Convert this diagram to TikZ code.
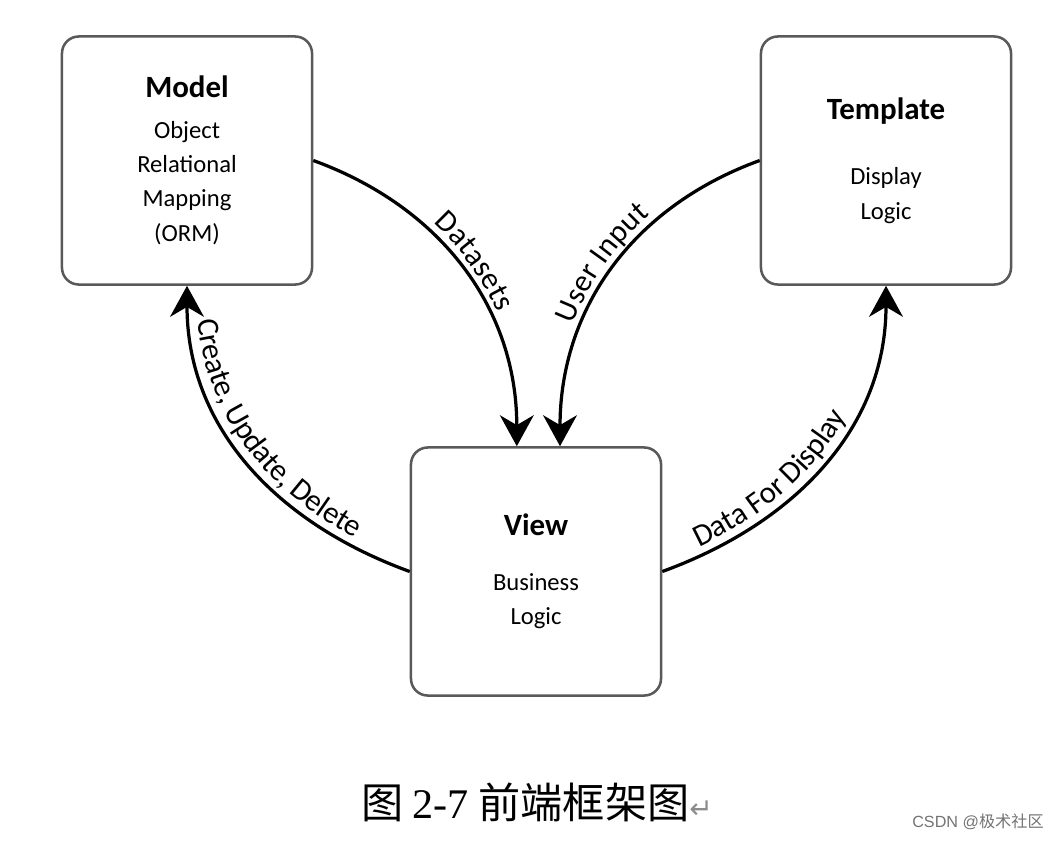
\documentclass[tikz,border=0pt]{standalone}
\usepackage{fontspec}
\setmainfont{Carlito}
\newfontfamily\cjkfont{Noto Sans CJK SC}
\newfontfamily\capfont{Liberation Serif}
\newfontfamily\markfont{Liberation Sans}
\newfontfamily\returnfont{DejaVu Sans}
\usetikzlibrary{arrows.meta,positioning,decorations.text}

\newcommand{\titlefont}{\fontsize{22}{26}\selectfont\bfseries}
\newcommand{\flowfont}{\fontsize{22}{24}\selectfont}

\begin{document}
\begin{tikzpicture}[
    x=0.025cm, y=-0.025cm,
    layer/.style={
        rectangle,
        draw=black!65,
        line width=1.8pt,
        minimum width=6.25cm,
        minimum height=6.2cm,
        align=center,
        rounded corners=12pt,
        font=\fontsize{17.5}{24.5}\selectfont
    },
    flow/.style={
        -{Stealth[length=22pt,width=24pt,inset=7pt]},
        line width=2.3pt,
        black
    },
    flowtext/.style={
        decorate,
        decoration={
            text along path,
            text={|\flowfont|#1},
            text align=center,
            raise=6pt
        }
    }
]
\useasboundingbox (0,0) rectangle (1062,842);

% The three boxes
\node[layer] (model) at (187,160.5) {
    {\titlefont Model}\\[4pt]
    Object\\Relational\\Mapping\\(ORM)
};
\node[layer] (template) at (886,160.5) {
    {\titlefont Template}\\[22pt]
    Display\\Logic
};
\node[layer] (view) at (536,571.5) {
    {\titlefont View}\\[14pt]
    Business\\Logic
};

% Arrows
\draw[flow] (model.east) to[out=-20,in=90] ([xshift=-0.48cm]view.north);
\draw[flow] (template.west) to[out=200,in=90] ([xshift=0.6cm]view.north);
\draw[flow] (view.west) to[out=160,in=-90] (model.south);
\draw[flow] (view.east) to[out=20,in=-90] (template.south);

% Arrow labels
\path[flowtext={Datasets}] (model.east) to[out=-20,in=90] ([xshift=-0.48cm]view.north);
\path[flowtext={User Input}] ([xshift=0.6cm]view.north) to[out=90,in=200] (template.west);
\path[flowtext={Create, Update, Delete}, decoration={text align={left, left indent=0.9cm}}]
    (model.south) to[out=-90,in=160] (view.west);
\path[flowtext={Data For Display}, decoration={text align={left, left indent=1.1cm}}]
    (view.east) to[out=20,in=-90] (template.south);

% Caption
\node[font=\fontsize{30}{34}\selectfont] (caption) at (537,802) {
    {\cjkfont 图} {\capfont 2-7} {\cjkfont 前端框架图}{\returnfont\fontsize{20}{22}\selectfont\color{black!45}↵}
};
\node[font=\markfont\fontsize{11.5}{13}\selectfont, text=black!55] (mark) at (978,822) {CSDN @{\cjkfont 极术社区}};

\end{tikzpicture}
\end{document}
